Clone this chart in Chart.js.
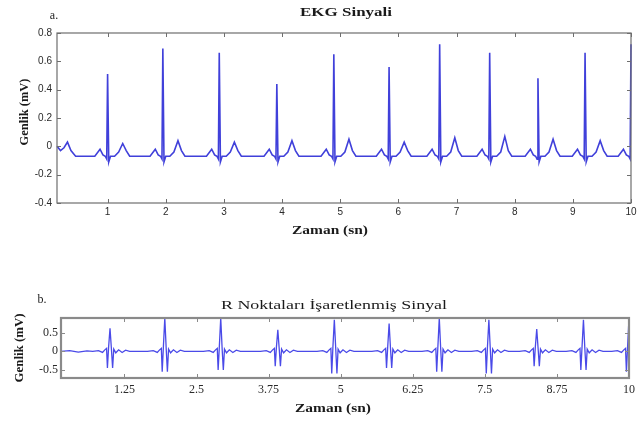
<!DOCTYPE html>
<html>
<head>
<meta charset="utf-8">
<script src="https://cdn.jsdelivr.net/npm/chart.js@4/dist/chart.umd.min.js"></script>
<style>
  html, body { margin: 0; padding: 0; background: #fff; }
  #wrap { position: relative; width: 641px; height: 423px; }
  canvas { position: absolute; left: 0; }
  #ekg   { top: 0; }
  #rmark { top: 250px; }
</style>
</head>
<body>
<div id="wrap">
  <canvas id="ekg" width="641" height="250"></canvas>
  <canvas id="rmark" width="641" height="173"></canvas>
</div>
<script>
/* ------------ data ------------ */
// R peak times (s), shared by both panels
const beatTimes = [1.00, 1.95, 2.92, 3.91, 4.89, 5.84, 6.71, 7.57, 8.40, 9.21, 10.0];

// a. raw EKG: R and T amplitudes per beat (mV)
const ekgR = [0.51, 0.69, 0.66, 0.44, 0.65, 0.56, 0.72, 0.66, 0.48, 0.66, 0.72];
const ekgT = [0.02, 0.04, 0.03, 0.04, 0.05, 0.03, 0.06, 0.07, 0.05, 0.04, 0.04];
// one beat as seen in panel a: offset from R (s) and level (mV), 'R'/'T' = that beat's own peak
const ekgShapeT = [-0.22, -0.13, -0.08, -0.04, -0.015, 0, 0.02, 0.05, 0.12, 0.19, 0.26, 0.32, 0.38];
const ekgShapeV = [-0.07, -0.02, -0.06, -0.07, -0.09, 'R', -0.11, -0.07, -0.07, -0.04, 'T', -0.03, -0.07];
// the tail of a beat before the window starts
const ekgLeadT = [0.13, 0.19, 0.25, 0.31, 0.37, 0.45];
const ekgLeadV = [0.00, -0.03, -0.01, 0.03, -0.03, -0.07];

// b. signal with R points marked: spike tops and dips per beat
const markR   = [0.62, 0.90, 0.90, 0.58, 0.85, 0.75, 0.90, 0.85, 0.60, 0.85, 0.90];
const markDip = [-0.45, -0.55, -0.50, -0.40, -0.60, -0.45, -0.55, -0.60, -0.40, -0.50, -0.55];
const markShapeT = [-0.30, -0.20, -0.13, -0.09, -0.06, -0.045, -0.025, 0, 0.025, 0.045, 0.065, 0.10, 0.15, 0.21, 0.27, 0.34];
const markShapeV = [0, 0.02, -0.03, 0.04, 0.08, 'D', 0.10, 'R', 0.05, 'D', 0.06, -0.04, 0.04, -0.03, 0.03, 0];
const markLeadT = [0.15, 0.30, 0.45, 0.60];
const markLeadV = [0, 0.02, -0.02, 0.01];

// ticks
const ekgXTicks  = [1, 2, 3, 4, 5, 6, 7, 8, 9, 10];
const ekgYTicks  = [-0.4, -0.2, 0, 0.2, 0.4, 0.6, 0.8];
const markXTicks = [1.25, 2.5, 3.75, 5, 6.25, 7.5, 8.75, 10];
const markYTicks = [-0.5, 0, 0.5];

/* ------------ helpers ------------ */
function buildSeries(leadT, leadV, shapeT, shapeV, picks) {
  const pts = leadT.map((t, i) => ({ x: t, y: leadV[i] }));
  beatTimes.forEach((bt, b) => {
    shapeT.forEach((off, k) => {
      const v = shapeV[k];
      pts.push({ x: +(bt + off).toFixed(3), y: typeof v === 'string' ? picks[v][b] : v });
    });
  });
  return pts;
}

// MATLAB-ish box: frame, inward ticks on all sides, free texts
const framePlugin = {
  id: 'frame',
  afterDraw(chart, args, o) {
    const { ctx, chartArea: a, scales } = chart;
    ctx.save();
    ctx.strokeStyle = o.color;
    ctx.lineWidth = 1;
    ctx.beginPath();
    scales.x.ticks.forEach(t => {
      const px = Math.round(scales.x.getPixelForValue(t.value)) + 0.5;
      ctx.moveTo(px, a.bottom); ctx.lineTo(px, a.bottom - o.tick);
      ctx.moveTo(px, a.top);    ctx.lineTo(px, a.top + o.tick);
    });
    scales.y.ticks.forEach(t => {
      const py = Math.round(scales.y.getPixelForValue(t.value)) + 0.5;
      ctx.moveTo(a.left, py);  ctx.lineTo(a.left + o.tick, py);
      ctx.moveTo(a.right, py); ctx.lineTo(a.right - o.tick, py);
    });
    ctx.stroke();
    ctx.lineWidth = o.width;
    ctx.strokeRect(a.left, a.top, a.right - a.left, a.bottom - a.top);

    ctx.fillStyle = '#1a1a1a';
    ctx.textAlign = 'center';
    ctx.textBaseline = 'middle';
    o.texts.forEach(t => {
      ctx.font = t.font;
      const w = ctx.measureText(t.text).width;
      ctx.save();
      ctx.translate(t.x, t.y);
      if (t.rot) ctx.rotate(t.rot);
      ctx.scale(t.w ? t.w / w : 1, 1);
      ctx.fillText(t.text, 0, 0);
      ctx.restore();
    });
    ctx.restore();
  }
};

function axis(min, max, ticks, font, pad, fitKey, fitVal) {
  return {
    type: 'linear', min, max,
    afterBuildTicks: s => { s.ticks = ticks.map(v => ({ value: v })); },
    afterFit: s => { s[fitKey] = fitVal; },
    grid: { display: false, drawTicks: false },
    border: { display: false },
    ticks: { font, color: '#2a2a2a', padding: pad, autoSkip: false, maxRotation: 0, callback: v => String(v) }
  };
}

function lineChart(id, points, color, width, opts) {
  return new Chart(document.getElementById(id), {
    type: 'line',
    data: { datasets: [{ data: points, borderColor: color, borderWidth: width, pointRadius: 0, tension: 0, fill: false, clip: 1 }] },
    options: {
      responsive: false, animation: false, events: [],
      layout: { padding: opts.padding },
      plugins: { legend: { display: false }, tooltip: { enabled: false }, frame: opts.frame },
      scales: { x: opts.x, y: opts.y }
    },
    plugins: [framePlugin]
  });
}

/* ------------ a. EKG Sinyali ------------ */
const sansTick = { family: 'Liberation Sans', size: 10 };
lineChart('ekg',
  buildSeries(ekgLeadT, ekgLeadV, ekgShapeT, ekgShapeV, { R: ekgR, T: ekgT }),
  '#4040da', 1.6, {
    padding: { top: 33, right: 10, left: 0, bottom: 0 },
    x: axis(0.13, 10, ekgXTicks, sansTick, 3, 'height', 47),
    y: axis(-0.4, 0.8, ekgYTicks, sansTick, 5, 'width', 57),
    frame: {
      color: '#6e6e6e', width: 1.2, tick: 4,
      texts: [
        { text: 'EKG Sinyali', x: 346, y: 13, font: 'bold 13px "Liberation Serif"', w: 92 },
        { text: 'a.', x: 54, y: 16, font: '12px "Liberation Serif"' },
        { text: 'Zaman (sn)', x: 330, y: 231, font: 'bold 13px "Liberation Serif"', w: 76 },
        { text: 'Genlik (mV)', x: 25, y: 112, font: 'bold 12px "Liberation Serif"', w: 67, rot: -Math.PI / 2 }
      ]
    }
  });

/* ------------ b. R Noktaları İşaretlenmiş Sinyal ------------ */
const serifTick = { family: 'Liberation Serif', size: 12 };
lineChart('rmark',
  buildSeries(markLeadT, markLeadV, markShapeT, markShapeV, { R: markR, D: markDip }),
  '#4a4ae8', 1.3, {
    padding: { top: 68, right: 12, left: 0, bottom: 0 },
    x: axis(0.15, 10, markXTicks, serifTick, 5, 'height', 45),
    y: axis(-0.72, 0.9, markYTicks, serifTick, 3, 'width', 61),
    frame: {
      color: '#8a8a8a', width: 2.2, tick: 4,
      texts: [
        { text: 'R Noktaları İşaretlenmiş Sinyal', x: 334, y: 56, font: '12px "Liberation Serif"', w: 226 },
        { text: 'b.', x: 42, y: 50, font: '12px "Liberation Serif"' },
        { text: 'Zaman (sn)', x: 333, y: 159, font: 'bold 13px "Liberation Serif"', w: 76 },
        { text: 'Genlik (mV)', x: 20, y: 98, font: 'bold 12px "Liberation Serif"', w: 69, rot: -Math.PI / 2 }
      ]
    }
  });
</script>
</body>
</html>
